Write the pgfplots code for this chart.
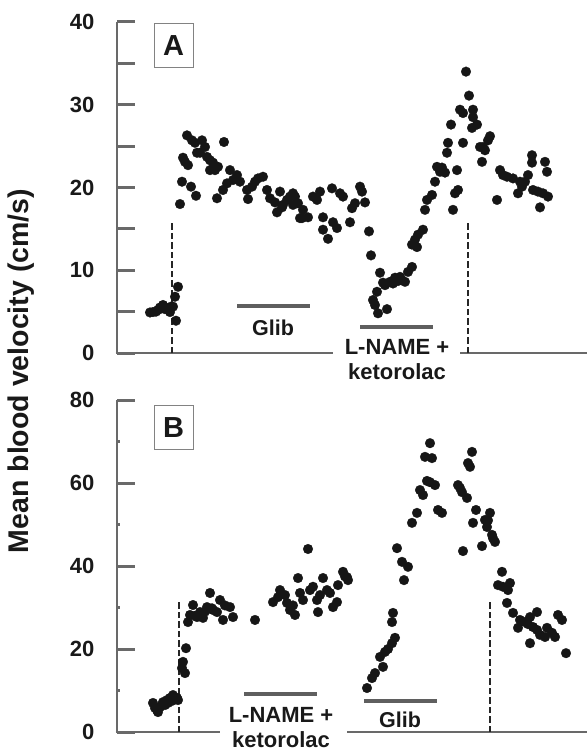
\documentclass[border=0pt]{standalone}
\usepackage{fontspec}
\setmainfont{Liberation Sans}
\usepackage{pgfplots}
\pgfplotsset{compat=1.18}
\definecolor{axisgray}{RGB}{105,105,105}
\definecolor{bargray}{RGB}{95,95,95}
\definecolor{boxgray}{RGB}{130,130,130}
\definecolor{dot}{RGB}{22,22,22}
\tikzset{vdash/.style={black!85, line width=2pt, dash pattern=on 6.5pt off 3pt}}
\pgfplotsset{
  panel/.style={
    scale only axis, width=470pt, xmin=117, xmax=587, ymin=0,
    axis x line=none, axis y line=left,
    y axis line style={-, draw=axisgray, line width=2.7pt},
    tick align=inside, major tick length=18pt,
    ytick style={draw=axisgray, line width=3pt},
    yticklabel style={font=\fontsize{22}{22}\selectfont\bfseries, xshift=-19pt, text=black!90},
    /pgf/number format/assume math mode=true,
    clip=false,
  },
  dots/.style={only marks, mark=*, mark size=4.9pt, mark options={draw=dot, fill=dot, line width=0.2pt}},
}
\begin{document}
\begin{tikzpicture}[x=1pt,y=1pt]
\path[use as bounding box] (0,0) rectangle (587,-751);
\node[rotate=90, font=\fontsize{28.5}{28.5}\selectfont\bfseries, text=black!90] at (21,-371) {Mean blood velocity (cm/s)};
% ---------------- Panel A ----------------
\begin{axis}[panel, at={(117pt,-353pt)}, anchor=south west, height=331pt, ymax=40,
  ytick={0,10,...,40}, minor ytick={5,15,25,35}, minor tick length=18pt]
\draw[axisgray, line width=2.7pt] (axis cs:115.7,0) -- (axis cs:333,0);
\draw[axisgray, line width=2.7pt] (axis cs:460,0) -- (axis cs:587,0);
\draw[vdash] (axis cs:172,0) -- (axis cs:172,15.7);
\draw[vdash] (axis cs:468,0) -- (axis cs:468,15.7);
\draw[bargray, line width=4pt] (axis cs:237,5.7) -- (axis cs:310,5.7);
\draw[bargray, line width=4pt] (axis cs:360,3.1) -- (axis cs:433,3.1);
\node[font=\fontsize{21.5}{21.5}\selectfont\bfseries, text=black!90] at (axis cs:273,3.1) {Glib};
\node[font=\fontsize{22}{25}\selectfont\bfseries, text=black!90, align=center] at (axis cs:397,-0.85) {L-NAME +\\ketorolac};
\node[draw=boxgray, line width=1pt, minimum width=39pt, minimum height=44pt, inner sep=0pt, font=\fontsize{29}{29}\selectfont\bfseries, text=black!90] at (axis cs:173.5,37.2) {A};
\addplot[dots] coordinates {
(150,4.9) (153,4.95) (156,5.0) (158,5.2) (160,5.5) (163,5.8) (165,5.3) (167,5.4) (170,4.95) (171,5.6) (173,5.6) (175,6.8) (178,8.0) (176,3.9)
(180,18.0) (182,20.7) (183,23.6) (185,23.1) (188,22.7) (187,26.3) (191,20.1) (196,19.0) (192,25.7) (195,25.4) (197,24.2) (200,24.2) (202,25.7) (205,24.9) (207,23.7) (210,23.3) (213,23.0) (210,22.1) (215,22.1) (218,22.5) (217,18.7) (224,25.5) (223,19.7) (227,20.5) (230,22.1) (233,20.9) (237,21.5) (240,20.7) (247,19.7) (248,18.6) (252,20.1) (255,20.7) (258,21.1) (263,21.3) (267,19.7) (270,18.7) (275,18.2) (280,19.5) (277,17.0) (282,17.6) (287,18.5) (290,18.9) (293,19.3) (293,17.9) (300,16.3)
(283,17.9) (295,18.9) (298,18.1) (303,17.3) (302,16.3) (308,16.4) (313,18.9) (317,18.5) (320,19.5) (323,16.4) (323,14.9) (328,13.8) (332,19.9) (333,15.8) (337,15.1) (340,19.3) (343,18.9) (350,15.8) (352,17.5) (355,18.1) (360,20.1) (362,19.5) (365,18.2)
(369,14.7) (371,11.8) (380,9.7) (377,7.4) (373,6.4) (375,5.8) (378,4.8) (387,5.3) (383,8.5) (385,8.2) (390,8.6) (393,8.4) (395,9.1) (398,8.7) (400,9.2) (402,8.8) (405,8.6) (408,9.8) (412,10.4) (412,13.1) (415,13.7) (418,14.3) (423,14.9) (417,12.8)
(425,17.3) (427,18.5) (432,19.1) (435,20.7) (437,22.5) (440,21.9) (442,22.4) (445,21.8) (447,24.2) (448,25.4) (451,27.6) (453,17.3) (455,19.3) (458,19.7) (457,22.1) (460,29.4) (463,25.4) (463,29.0) (466,34.0) (469,31.1) (472,27.2) (473,29.4) (473,28.5) (477,27.6) (480,24.9) (482,23.1) (483,24.9) (485,24.5) (488,25.7) (490,26.2)
(497,18.5) (500,22.1) (503,21.5) (507,21.3) (513,21.1) (518,19.3) (520,20.7) (522,20.1) (525,20.7) (528,21.5) (532,23.9) (532,23.0) (533,19.7) (538,19.5) (540,17.6) (543,19.3) (545,23.1) (547,21.9) (548,18.9)
};
\end{axis}
% ---------------- Panel B ----------------
\begin{axis}[panel, at={(117pt,-732pt)}, anchor=south west, height=332pt, ymax=80,
  ytick={0,20,...,80}, minor ytick={10,30,50,70}, minor tick length=3pt,
  minor tick style={draw=axisgray, line width=1.5pt}]
\draw[axisgray, line width=2.7pt] (axis cs:115.7,0) -- (axis cs:220,0);
\draw[axisgray, line width=2.7pt] (axis cs:347,0) -- (axis cs:587,0);
\draw[vdash] (axis cs:179,0) -- (axis cs:179,31.3);
\draw[vdash] (axis cs:490,0) -- (axis cs:490,31.3);
\draw[bargray, line width=4pt] (axis cs:244,9.2) -- (axis cs:317,9.2);
\draw[bargray, line width=4pt] (axis cs:364,7.5) -- (axis cs:437,7.5);
\node[font=\fontsize{21.5}{21.5}\selectfont\bfseries, text=black!90] at (axis cs:400,2.9) {Glib};
\node[font=\fontsize{22}{25}\selectfont\bfseries, text=black!90, align=center] at (axis cs:281,1.15) {L-NAME +\\ketorolac};
\node[draw=boxgray, line width=1pt, minimum width=39pt, minimum height=44pt, inner sep=0pt, font=\fontsize{29}{29}\selectfont\bfseries, text=black!90] at (axis cs:173.5,73.3) {B};
\addplot[dots] coordinates {
(153,7.0) (155,5.8) (157,5.3) (158,4.8) (160,6.0) (162,6.5) (163,7.2) (165,6.5) (167,7.7) (168,7.0) (170,8.2) (172,7.5) (173,8.9) (175,8.0) (177,8.2) (178,7.7)
(182,15.4) (183,16.9) (185,14.2) (186,20.2) (188,26.5) (190,28.2) (193,30.6) (195,28.0) (197,27.7) (200,28.9) (203,27.5) (205,29.0) (207,30.1) (210,33.5) (212,29.8) (213,29.4) (217,28.9) (220,31.8) (223,27.0) (225,30.5) (230,30.1) (233,27.7)
(255,27.0) (273,31.3) (278,32.5) (280,34.2) (285,33.0) (287,31.1) (290,29.4) (293,30.5) (295,28.2) (298,37.1) (300,33.5) (303,31.8) (308,44.1) (310,34.2) (313,35.0) (317,31.8) (318,28.9) (320,33.0) (323,37.1) (327,34.2) (330,33.5) (333,30.1) (337,31.3) (338,35.4) (343,38.6) (345,37.5) (347,37.3) (348,36.6)
(367,10.6) (372,13.0) (375,14.2) (383,15.7) (380,18.1) (385,19.3) (388,20.0) (392,21.4) (395,22.7) (392,26.5) (393,28.7) (397,44.3) (402,41.0) (408,39.8) (404,36.6) (412,50.4) (417,52.8) (420,58.3) (423,57.1) (427,60.5) (430,60.2) (435,59.5) (425,66.3) (432,66.0) (430,69.6) (438,53.5) (442,52.8)
(458,59.5) (460,58.8) (462,57.8) (467,56.4) (468,64.8) (470,63.9) (472,67.5) (463,43.6) (473,50.4) (476,53.5) (485,51.1) (487,49.4) (490,52.8) (488,51.0) (482,44.8) (493,46.7) (495,45.8) (492,47.5)
(502,38.6) (498,35.4) (503,35.0) (510,35.9) (508,34.2) (507,31.1) (513,28.7) (520,27.0) (518,25.1) (525,26.5) (530,27.7) (528,26.0) (537,28.9) (533,25.3) (537,24.6) (540,23.4) (545,22.9) (547,25.1) (552,23.9) (555,22.9) (530,21.4) (558,28.2) (562,27.0) (566,19.0)
};
\end{axis}
\end{tikzpicture}
\end{document}
